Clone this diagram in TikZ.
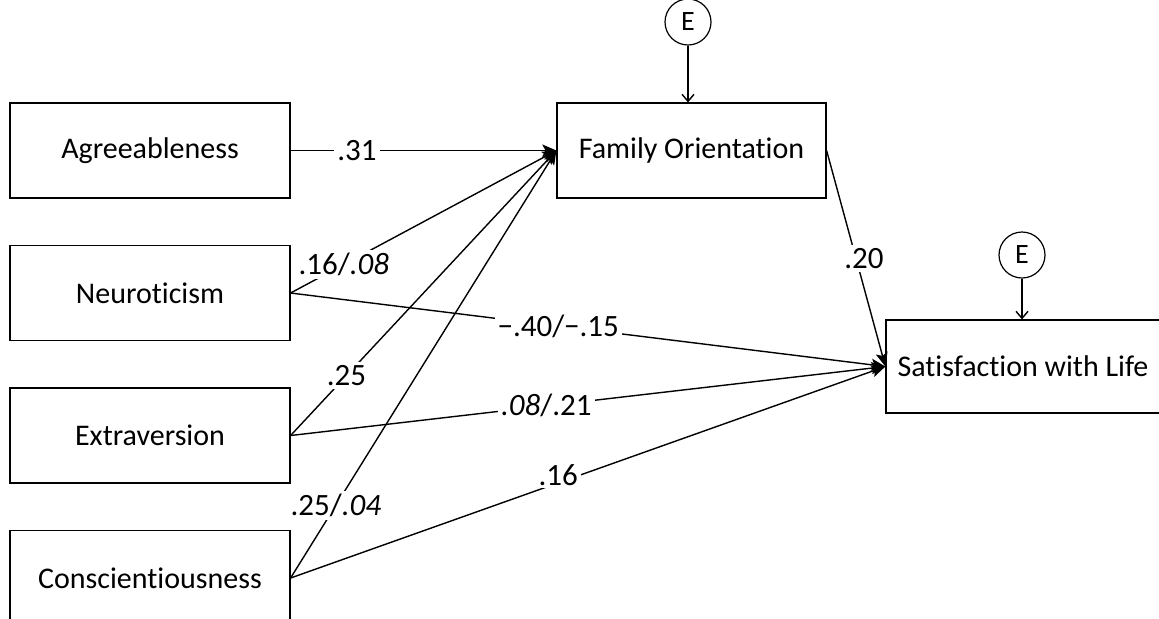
\documentclass[tikz,border=0pt]{standalone}
\usepackage{fontspec}
\setmainfont{Carlito}[Ligatures=NoCommon]
\usetikzlibrary{arrows.meta,positioning}
\begin{document}
\begin{tikzpicture}[x=0.5pt, y=-0.5pt, node distance=71.25pt,
    var/.style={draw, line width=0.6pt, minimum width=140pt, minimum height=47.5pt, font=\fontsize{15}{18}\selectfont},
    err/.style={draw, circle, line width=0.6pt, minimum size=23pt, inner sep=0pt, font=\fontsize{14}{16}\selectfont},
    path/.style={-{Stealth[length=7pt, width=6pt, inset=1.5pt]}, line width=0.7pt},
    errpath/.style={-{Straight Barb[length=3.5pt, width=6pt]}, line width=0.7pt},
    coef/.style={fill=white, inner sep=1.5pt, font=\fontsize{15.5}{18}\selectfont}]
\useasboundingbox (0,0) rectangle (1159,618);
\node[var] (A) at (150,150.5) {Agreeableness};
\node[var] (N) [below of=A] {Neuroticism};
\node[var] (X) [below of=N] {Extraversion};
\node[var] (C) [below of=X] {Conscientiousness};
\node[var, minimum width=134.5pt] (F) at (691.5,150.5) {Family Orientation};
\node[var, minimum width=137pt, minimum height=46.5pt] (S) at (1023,366.5) {Satisfaction with Life};
\node[err] (EF) at (688,22) {E};
\node[err] (ES) at (1022,255) {E};
% error terms
\draw[errpath] (EF) -- (EF |- F.north);
\draw[errpath] (ES) -- (ES |- S.north);
% paths to family orientation
\draw[path] (A.east) to node[coef, pos=.25] {.31} (F.west);
\draw[path] (N.east) to node[coef, pos=.2] {.16/\textit{.08}} (F.west);
\draw[path] (X.east) to node[coef, pos=.21] {.25} (F.west);
\draw[path] (C.east) to node[coef, pos=.17] {.25/\textit{.04}} (F.west);
% paths to satisfaction with life
\draw[path] (N.east) to node[coef, pos=.45] {−.40/−.15} (S.west);
\draw[path] (X.east) to node[coef, pos=.43] {\textit{.08}/.21} (S.west);
\draw[path] (C.east) to node[coef, pos=.45, yshift=4pt] {.16} (S.west);
\draw[path] (F.east) to node[coef, pos=.5, xshift=4pt] {.20} (S.west);
\end{tikzpicture}
\end{document}
